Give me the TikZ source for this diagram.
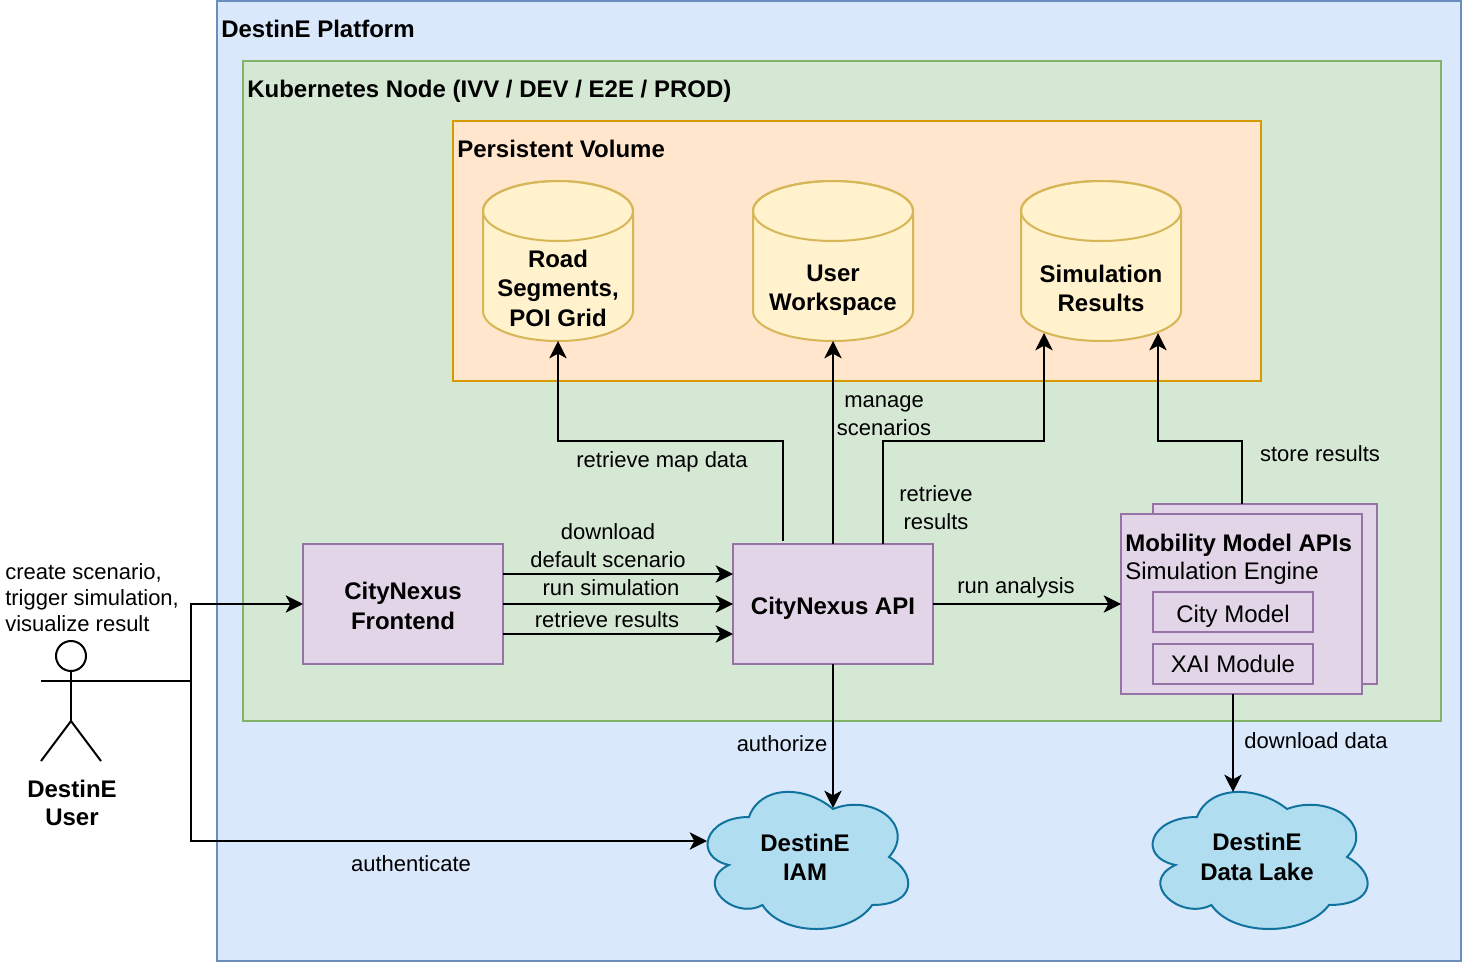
\documentclass[tikz,border=0pt]{standalone}
\usepackage{fontspec}
\setmainfont{Liberation Sans}
\usetikzlibrary{arrows.meta,positioning}

\definecolor{blueF}{HTML}{DAE8FC}
\definecolor{blueD}{HTML}{6C8EBF}
\definecolor{greenF}{HTML}{D5E8D4}
\definecolor{greenD}{HTML}{82B366}
\definecolor{orangeF}{HTML}{FFE6CC}
\definecolor{orangeD}{HTML}{D79B00}
\definecolor{purpleF}{HTML}{E1D5E7}
\definecolor{purpleD}{HTML}{9673A6}
\definecolor{yellowF}{HTML}{FFF2CC}
\definecolor{yellowD}{HTML}{D6B656}
\definecolor{cloudF}{HTML}{B1DDF0}
\definecolor{cloudD}{HTML}{10739E}

\tikzset{
  bigtxt/.style={font=\fontsize{18}{22}\selectfont\bfseries,align=center,inner sep=0pt},
  smalltxt/.style={font=\fontsize{16.5}{21}\selectfont,align=center,inner sep=0pt},
  title/.style={bigtxt,anchor=west},
  zone/.style={draw,line width=1.5pt},
  block/.style={draw=purpleD,fill=purpleF,line width=1.5pt,inner sep=0pt,outer sep=0pt,bigtxt,
    minimum width=150pt,minimum height=90pt},
  inner block/.style={draw=purpleD,line width=1.5pt,inner sep=0pt,outer sep=0pt,
    font=\fontsize{18}{21.75}\selectfont,minimum width=120pt,minimum height=30pt,text depth=0pt},
  flow/.style={line width=1.5pt,-{Stealth[length=13pt,width=13pt,inset=3.5pt]}},
  stick/.style={line width=1.5pt},
}

% name, centre x, width, text
\newcommand{\dbcan}[4]{
  \path[draw=yellowD,fill=yellowF,line width=1.5pt] (#2-#3/2,211)
    -- ++(0,100) arc[start angle=180,end angle=360,x radius=#3*0.375pt,y radius=22.5pt]
    -- ++(0,-100) arc[start angle=0,end angle=180,x radius=#3*0.375pt,y radius=22.5pt] -- cycle;
  \path[draw=yellowD,line width=1.5pt] (#2,211) ellipse[x radius=#3*0.375pt,y radius=22.5pt];
  \node[bigtxt,outer sep=0pt,text depth=0pt,minimum height=79.5pt,minimum width=#3*0.75pt] (#1) at (#2,288) {#4};
}

% name, left x, width, centre text
\newcommand{\cloudpath}[4]{
  \begin{scope}[shift={(#2,777)},x=#3*0.75pt,y=-120pt]
  \path[draw=cloudD,fill=cloudF,line width=1.5pt] (0.25,0.25)
    .. controls (0.05,0.25) and (0,0.5) .. (0.16,0.55)
    .. controls (0,0.66) and (0.18,0.9) .. (0.31,0.8)
    .. controls (0.4,1) and (0.7,1) .. (0.8,0.8)
    .. controls (1,0.8) and (1,0.6) .. (0.875,0.5)
    .. controls (1,0.3) and (0.8,0.1) .. (0.625,0.2)
    .. controls (0.5,0.05) and (0.3,0.05) .. cycle;
  \node[bigtxt] (#1) at (0.5,0.5) {#4};
  \end{scope}
}

\begin{document}
\begin{tikzpicture}[x=0.75pt,y=-0.75pt]

\useasboundingbox (0,0) rectangle (1462,962);

\draw[zone,draw=blueD,fill=blueF] (217,1) rectangle (1461,961);
\draw[zone,draw=greenD,fill=greenF] (243,61) rectangle (1441,721);
\draw[zone,draw=orangeD,fill=orangeF] (453,121) rectangle (1261,381);

\node[title] (platform) at (221,29) {DestinE Platform};
\node[title] (kube) at (247,91) {Kubernetes Node (IVV / DEV / E2E / PROD)};
\node[title] (volume) at (457,149) {Persistent Volume};

\dbcan{road}{558}{150}{Road\\Segments,\\POI Grid}
\dbcan{space}{833}{160}{User\\Workspace}
\dbcan{sim}{1101}{160}{Simulation\\Results}

\node[block] (front) at (403,604) {\rule{0pt}{16pt}CityNexus\\Frontend};
\node[block,text depth=0pt] (api) at (833,604) {\rule{0pt}{15pt}CityNexus API};

\node[block,minimum width=168pt,minimum height=135pt] (mobback) at (1265,594) {};
\node[block,minimum width=180.75pt,minimum height=135pt] (mob) at (1241.5,604) {};
\node[anchor=west,inner sep=0pt,align=left,font=\fontsize{18}{21}\selectfont] (mobtxt) at (1125,559)
  {\textbf{Mobility Model APIs}\\Simulation Engine};
\node[inner block] (city) at (1233,612) {\rule{0pt}{15pt}City Model};
\node[inner block] (xai) at (1233,664) {XAI Module};

\cloudpath{iam}{693}{224}{DestinE\\IAM}
\cloudpath{lake}{1137}{240}{DestinE\\Data Lake}

\node[draw,stick,circle,inner sep=0pt,outer sep=0pt,minimum size=22.5pt] (head) at (71,656) {};
\node[bigtxt,font=\fontsize{18}{21}\selectfont\bfseries] (user) at (72,803) {DestinE\\User};
\node[smalltxt,align=left,anchor=west,font=\fontsize{16.5}{19.5}\selectfont] (actions) at (5,598)
  {create scenario,\\trigger simulation,\\visualize result};

\coordinate (arm) at (71,681);
\coordinate (hip) at (71,721);
\coordinate (hub) at (191,681);
\draw[stick] (head.south) -- (hip);
\draw[stick] (41,681) -- (arm);
\draw[stick] (41,761) -- (hip) -- (101,761);

\coordinate (iamin) at (707,841);
\coordinate (iamtop) at (833,808);
\coordinate (laketop) at (1233,792);
\coordinate (apiL) at (783,541);
\coordinate (apiR) at (883,544);
\coordinate (simL) at (1044,333);
\coordinate (simR) at (1158,333);
\coordinate (mobtop) at (1242,504);
\coordinate (mobin) at (1121,604);

\draw[flow] (arm) -- (hub) |- (front.west);
\draw[flow] (arm) -- (hub) |- (iamin);

\draw[flow] ([yshift=22.5pt]front.east) -- ([yshift=22.5pt]api.west);
\draw[flow] (front.east) -- (api.west);
\draw[flow] ([yshift=-22.5pt]front.east) -- ([yshift=-22.5pt]api.west);
\draw[flow] (api.east) -- (mobin);

\draw[flow] (apiL) -- (783,441) -| (road.south);
\draw[flow] (api.north) -- (space.south);
\draw[flow] (apiR) -- (883,441) -| (simL);
\draw[flow] (mobtop) -- (1242,441) -| (simR);

\draw[flow] (api.south) -- (iamtop);
\draw[flow] (1233,694) -- (laketop);

\node[smalltxt] (lblmap) at (662,462) {retrieve map data};
\node[smalltxt] (lblmanage) at (884,416) {manage\\scenarios};
\node[smalltxt] (lblstore) at (1320,454) {store results};
\node[smalltxt] (lblresults) at (936,508) {retrieve\\results};
\node[smalltxt] (lbldefault) at (608,546) {download\\default scenario};
\node[smalltxt] (lblrun) at (611,588) {run simulation};
\node[smalltxt] (lblback) at (607,620) {retrieve results};
\node[smalltxt] (lblanalysis) at (1016,588) {run analysis};
\node[smalltxt] (lblauthz) at (782,744) {authorize};
\node[smalltxt] (lbldata) at (1316,741) {download data};
\node[smalltxt] (lblauthn) at (411,864) {authenticate};

\end{tikzpicture}
\end{document}
